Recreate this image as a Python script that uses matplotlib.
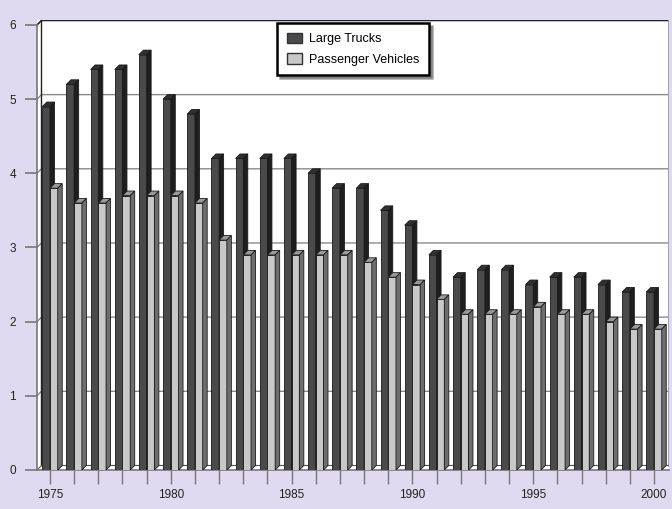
import matplotlib
matplotlib.use("Agg")
from matplotlib import pyplot as plt
from matplotlib.patches import Polygon, Patch

plt.rcParams['font.family'] = ['Liberation Sans', 'DejaVu Sans']

years = list(range(1975, 2001))
large_trucks = [4.9, 5.2, 5.4, 5.4, 5.6, 5.0, 4.8, 4.2, 4.2, 4.2, 4.2, 4.0, 3.8,
                3.8, 3.5, 3.3, 2.9, 2.6, 2.7, 2.7, 2.5, 2.6, 2.6, 2.5, 2.4, 2.4]
passenger = [3.8, 3.6, 3.6, 3.7, 3.7, 3.7, 3.6, 3.1, 2.9, 2.9, 2.9, 2.9, 2.9,
             2.8, 2.6, 2.5, 2.3, 2.1, 2.1, 2.1, 2.2, 2.1, 2.1, 2.0, 1.9, 1.9]
series_names = ["Large Trucks", "Passenger Vehicles"]

# front / top / side shades for each series
truck_cols = ("#4a4a4a", "#303030", "#1e1e1e")
pass_cols = ("#c8c8c8", "#9a9a9a", "#6e6e6e")
bg = "#e0daf0"

fig = plt.figure(figsize=(6.72, 5.09), dpi=100, facecolor=bg)
ax = fig.add_axes([37 / 672, 39 / 509, 632 / 672, 450 / 509])
ax.set_facecolor("white")

x0, x1 = 1974.462, 2000.62
ymax = 6.0
dx, dy = 0.186, 0.061
ax.set_xlim(x0, x1)
ax.set_ylim(0, (470 - 20) / 74.17)


def bar3d(x, w, h, cols, z):
    front, top, side = cols
    ec = "#1a1a1a"
    ax.add_patch(Polygon([(x, 0), (x + w, 0), (x + w, h), (x, h)],
                         closed=True, fc=front, ec=ec, lw=0.6, zorder=z))
    ax.add_patch(Polygon([(x, h), (x + w, h), (x + w + dx, h + dy), (x + dx, h + dy)],
                         closed=True, fc=top, ec=ec, lw=0.6, zorder=z))
    ax.add_patch(Polygon([(x + w, 0), (x + w + dx, dy), (x + w + dx, h + dy), (x + w, h)],
                         closed=True, fc=side, ec=ec, lw=0.6, zorder=z))


# back wall and grid
grid_c = "#8a8a8a"
for k in range(1, 6):
    ax.plot([x0, x0 + dx, x1], [k, k + dy, k + dy], color=grid_c, lw=1.0, zorder=1)
ax.plot([x0, x0 + dx, x1], [ymax, ymax + dy, ymax + dy], color="#222222", lw=1.2, zorder=1)
ax.plot([x0 + dx, x0 + dx], [dy, ymax + dy], color="#222222", lw=1.0, zorder=1)
ax.plot([x1 - 0.02, x1 - 0.02], [dy, ymax + dy], color="#999999", lw=2.0, zorder=1)
ax.plot([x0, x0 + dx, x1], [0, dy, dy], color="#555555", lw=0.8, zorder=1)

w = 0.32
z = 3
for yr, t, p in zip(years, large_trucks, passenger):
    bar3d(yr - w, w, t, truck_cols, z)
    bar3d(yr, w, p, pass_cols, z + 1)
    z += 2

for s in ("top", "right"):
    ax.spines[s].set_visible(False)
for s in ("left", "bottom"):
    ax.spines[s].set_color("#777777")
    ax.spines[s].set_linewidth(1.2)
ax.spines["left"].set_bounds(0, ymax)

ax.set_yticks(range(7))
ax.set_xticks(range(1975, 2001, 5))
ax.set_xticks(years, minor=True)
ax.tick_params(axis="y", direction="out", length=9, width=1.2, color="#777777",
               labelsize=8.5, labelcolor="#222222", pad=6)
ax.tick_params(axis="x", which="both", direction="out", length=10, width=1.0,
               color="#777777", labelsize=8.5, labelcolor="#222222", pad=3.5)

handles = [Patch(fc=truck_cols[0], ec="#333333"), Patch(fc=pass_cols[0], ec="#333333")]
leg = ax.legend(handles, series_names, loc="upper left", bbox_to_anchor=(0.38, 0.993),
                borderaxespad=0, fontsize=9, fancybox=False, shadow=True, framealpha=1,
                handlelength=1.2, handleheight=0.9, handletextpad=0.6,
                borderpad=0.75, labelspacing=0.65)
leg.get_frame().set_edgecolor("black")
leg.get_frame().set_linewidth(1.8)
leg.set_zorder(100)

fig.savefig("out.png", dpi=100, facecolor=bg)
